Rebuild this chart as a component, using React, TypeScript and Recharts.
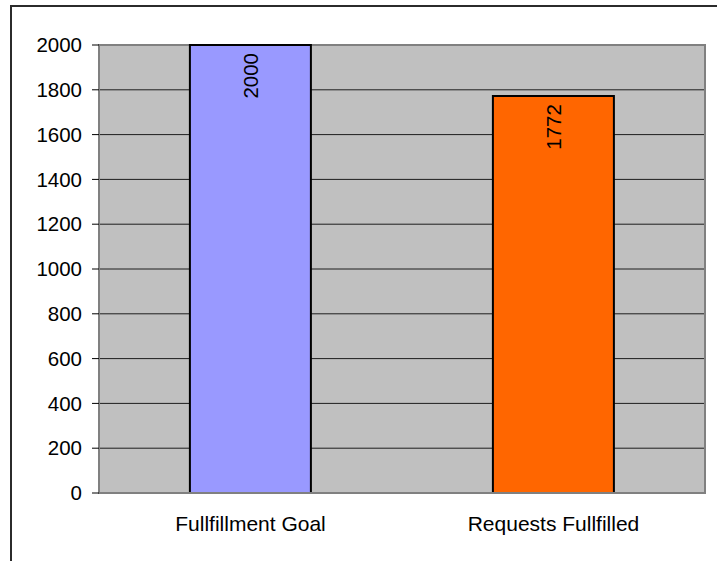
import { BarChart, Bar, XAxis, YAxis, CartesianGrid, Cell, LabelList, ReferenceArea } from 'recharts';

const categories = ['Fullfillment Goal', 'Requests Fullfilled'];
const values = [2000, 1772];
const yTicks = [0, 200, 400, 600, 800, 1000, 1200, 1400, 1600, 1800, 2000];
const edgeTicks = [0, 1, 2];

const COLORS = ['#9999FF', '#FF6600'];
const FONT = '"Liberation Sans", Arial, sans-serif';

const data = categories.map((name, i) => ({ name, value: values[i], edge: i }));

function RotatedLabel(props: any) {
  const { x, y, width, value } = props;
  const cx = x + width / 2;
  const ty = y + 8;
  return (
    <text
      x={cx}
      y={ty}
      transform={`rotate(-90, ${cx}, ${ty})`}
      textAnchor="end"
      dominantBaseline="central"
      fontSize={20.5}
      fontFamily={FONT}
      fill="#000"
    >
      {value}
    </text>
  );
}

export default function App() {
  return (
    <div style={{ position: 'absolute', left: 0, top: 0, width: 717, height: 561, overflow: 'hidden', background: '#fff' }}>
      <div
        style={{
          position: 'absolute',
          left: 10,
          top: 5,
          width: 730,
          height: 580,
          border: '2px solid #2b2b2b',
        }}
      />
      <div style={{ position: 'absolute', left: 0, top: 0 }}>
        <BarChart
          width={717}
          height={561}
          data={data}
          margin={{ top: 45, right: 12, left: 39, bottom: 38 }}
          barCategoryGap="30%"
        >
          <CartesianGrid vertical={false} fill="#C0C0C0" stroke="#000" strokeOpacity={0.85} />
          <ReferenceArea y1={0} y2={2000} fill="none" stroke="#808080" strokeWidth={2} ifOverflow="visible" />
          <XAxis
            xAxisId="edges"
            type="number"
            dataKey="edge"
            domain={[0, 2]}
            ticks={edgeTicks}
            height={0}
            axisLine={false}
            tick={false}
            tickLine={{ stroke: '#404040' }}
            tickSize={5}
          />
          <XAxis
            dataKey="name"
            height={30}
            axisLine={{ stroke: '#808080', strokeWidth: 2 }}
            tickLine={false}
            tickSize={0}
            tickMargin={23}
            tick={{ fill: '#000', fontSize: 21, fontFamily: FONT }}
          />
          <YAxis
            width={60}
            domain={[0, 2000]}
            ticks={yTicks}
            interval={0}
            axisLine={{ stroke: '#808080', strokeWidth: 2 }}
            tickLine={{ stroke: '#000' }}
            tickSize={7}
            tickMargin={10}
            tick={{ fill: '#000', fontSize: 20.5, fontFamily: FONT }}
          />
          <Bar dataKey="value" stroke="#000" strokeWidth={2} isAnimationActive={false}>
            {data.map((_, index) => (
              <Cell key={`cell-${index}`} fill={COLORS[index % COLORS.length]} />
            ))}
            <LabelList dataKey="value" content={RotatedLabel} />
          </Bar>
        </BarChart>
      </div>
    </div>
  );
}
